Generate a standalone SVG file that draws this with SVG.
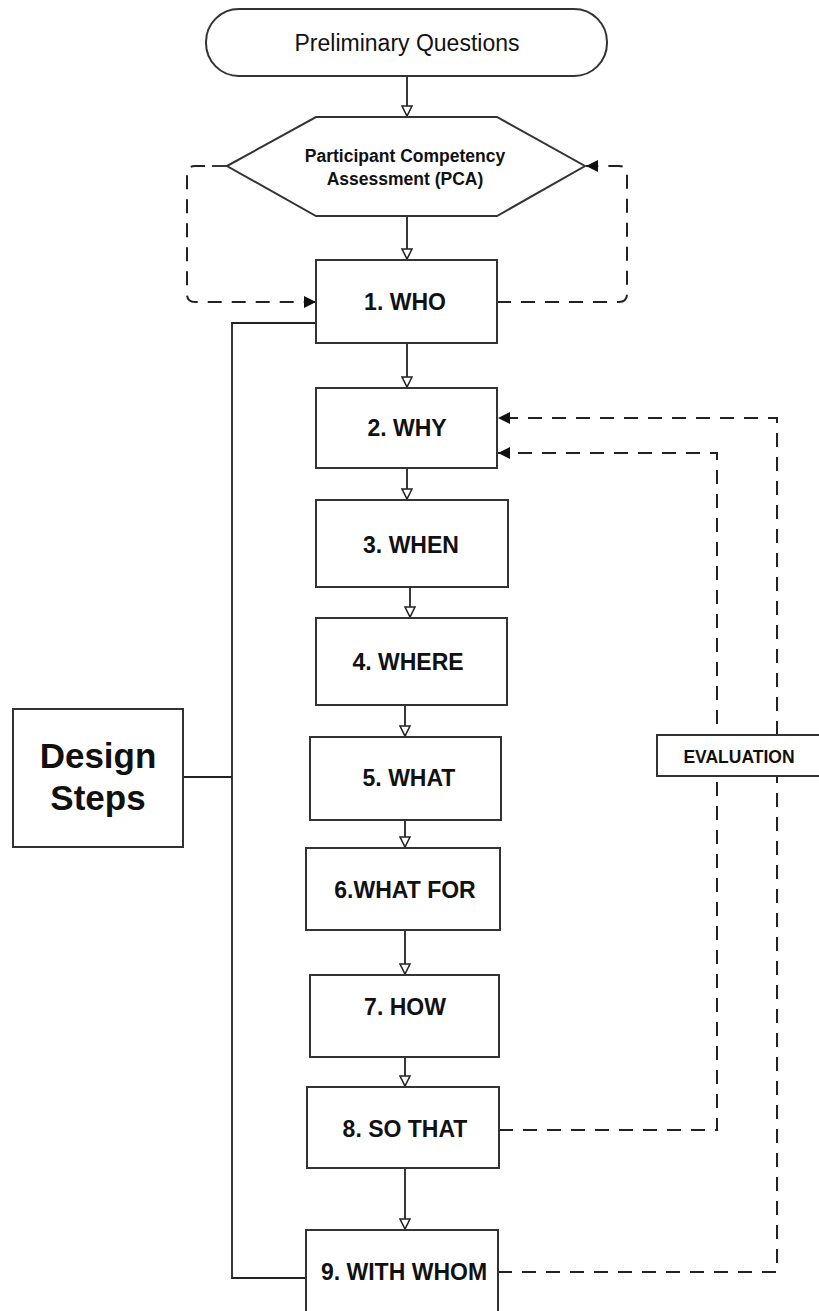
<svg xmlns="http://www.w3.org/2000/svg" width="819" height="1311" viewBox="0 0 819 1311">
<style>
.box{fill:#fff;stroke:#333;stroke-width:2}
.t{font-family:"Liberation Sans",Arial,sans-serif;font-weight:bold;fill:#111;text-anchor:middle}
.step{font-size:23px}
.ln{fill:none;stroke:#222;stroke-width:1.8}
.dash{fill:none;stroke:#222;stroke-width:2;stroke-dasharray:14 10}
</style>
<defs>
<marker id="open" viewBox="0 0 12 12" refX="12" refY="6" markerWidth="12" markerHeight="12" markerUnits="userSpaceOnUse" orient="auto">
<path d="M1,1 L11,6 L1,11 z" fill="#fff" stroke="#222" stroke-width="1.6"/>
</marker>
<marker id="fill" viewBox="0 0 12 12" refX="12" refY="6" markerWidth="12" markerHeight="12" markerUnits="userSpaceOnUse" orient="auto">
<path d="M0,0 L12,6 L0,12 z" fill="#111"/>
</marker>
</defs>
<rect width="819" height="1311" fill="#fff"/>
<g id="connectors">
<line class="ln" x1="407" y1="76" x2="407" y2="117" marker-end="url(#open)"/>
<line class="ln" x1="407" y1="216" x2="407" y2="260" marker-end="url(#open)"/>
<line class="ln" x1="407" y1="343" x2="407" y2="388" marker-end="url(#open)"/>
<line class="ln" x1="407" y1="468" x2="407" y2="500" marker-end="url(#open)"/>
<line class="ln" x1="410" y1="587" x2="410" y2="618" marker-end="url(#open)"/>
<line class="ln" x1="405" y1="705" x2="405" y2="737" marker-end="url(#open)"/>
<line class="ln" x1="405" y1="820" x2="405" y2="848" marker-end="url(#open)"/>
<line class="ln" x1="405" y1="930" x2="405" y2="975" marker-end="url(#open)"/>
<line class="ln" x1="405" y1="1057" x2="405" y2="1087" marker-end="url(#open)"/>
<line class="ln" x1="405" y1="1168" x2="405" y2="1230" marker-end="url(#open)"/>
<path class="ln" d="M227 166 H212"/>
<path class="dash" d="M205 166 H195 Q187 166 187 174 V294 Q187 302 195 302 H316" marker-end="url(#fill)"/>
<path class="dash" d="M497 302 H619 Q627 302 627 294 V174 Q627 166 619 166 H586" marker-end="url(#fill)"/>
<path class="ln" d="M316 323 H232 V1278 H306"/>
<path class="ln" d="M183 777 H232"/>
<path class="dash" d="M498 1272 H777 V418 H498" marker-end="url(#fill)"/>
<path class="dash" d="M499 1130 H717 V453 H498" marker-end="url(#fill)"/>
</g>
<g id="preliminary">
<rect class="box" x="206" y="9" width="401" height="67" rx="33" ry="33"/>
<text x="407" y="51" font-family="Liberation Sans, Arial, sans-serif" font-size="23" fill="#111" text-anchor="middle">Preliminary Questions</text>
</g>
<g id="pca">
<polygon class="box" points="227,166 316,117 497,117 585,166 497,216 316,216"/>
<text class="t" x="405" y="162" font-size="17.5">Participant Competency</text>
<text class="t" x="405" y="185" font-size="17.5">Assessment (PCA)</text>
</g>
<g id="who"><rect class="box" x="316" y="260" width="181" height="83"/><text class="t step" x="405" y="310">1. WHO</text></g>
<g id="why"><rect class="box" x="316" y="388" width="181" height="80"/><text class="t step" x="407" y="436">2. WHY</text></g>
<g id="when"><rect class="box" x="316" y="500" width="192" height="87"/><text class="t step" x="411" y="553">3. WHEN</text></g>
<g id="where"><rect class="box" x="316" y="618" width="191" height="87"/><text class="t step" x="408" y="670">4. WHERE</text></g>
<g id="what"><rect class="box" x="310" y="737" width="191" height="83"/><text class="t step" x="409" y="786">5. WHAT</text></g>
<g id="whatfor"><rect class="box" x="306" y="848" width="194" height="82"/><text class="t step" x="405" y="898">6.WHAT FOR</text></g>
<g id="how"><rect class="box" x="310" y="975" width="189" height="82"/><text class="t step" x="405" y="1015">7. HOW</text></g>
<g id="sothat"><rect class="box" x="307" y="1087" width="192" height="81"/><text class="t step" x="405" y="1137">8. SO THAT</text></g>
<g id="withwhom"><rect class="box" x="306" y="1230" width="192" height="100"/><text class="t step" x="404" y="1280">9. WITH WHOM</text></g>
<g id="design"><rect class="box" x="13" y="709" width="170" height="138"/>
<text class="t" x="98" y="768" font-size="35">Design</text>
<text class="t" x="98" y="810" font-size="35">Steps</text></g>
<g id="evaluation"><rect class="box" x="657" y="735" width="170" height="41"/><text class="t" x="739" y="763" font-size="17.5">EVALUATION</text></g>
</svg>
